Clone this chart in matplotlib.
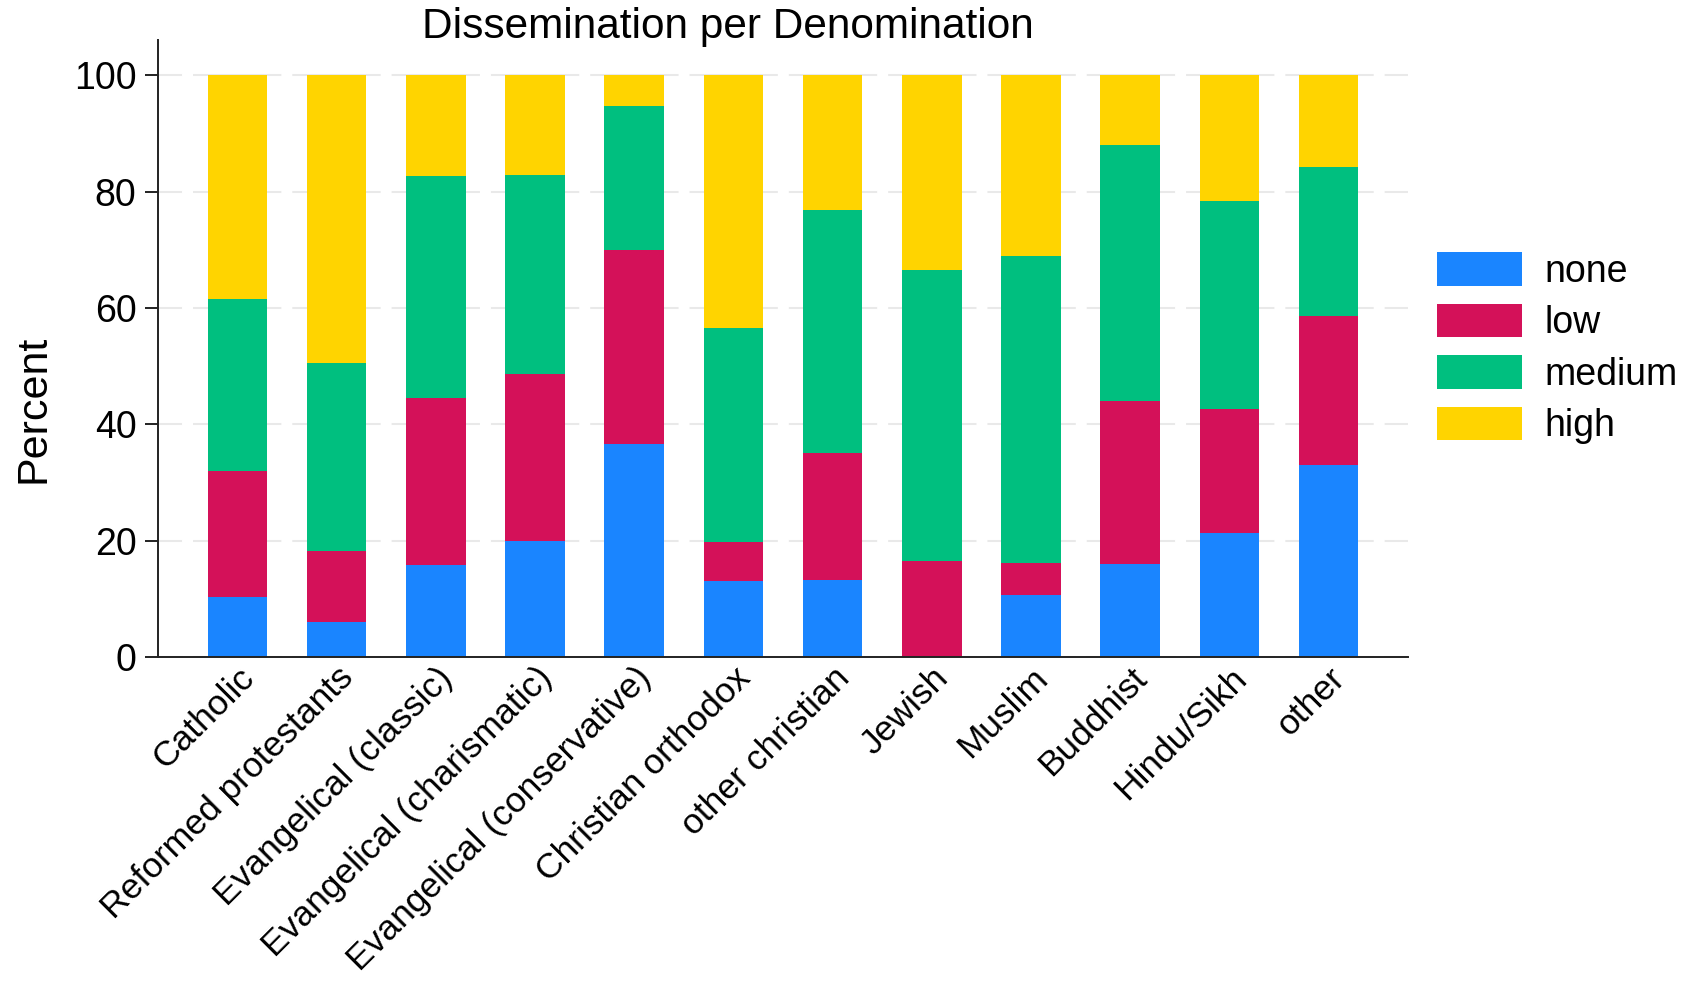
import matplotlib
matplotlib.use("Agg")
import matplotlib.pyplot as plt
import numpy as np

plt.rcParams["font.family"] = ["Liberation Sans", "DejaVu Sans"]
plt.rcParams["lines.scale_dashes"] = False

# Data (percent per denomination)
kategorier = [
    "Catholic", "Reformed protestants", "Evangelical (classic)",
    "Evangelical (charismatic)", "Evangelical (conservative)",
    "Christian orthodox", "other christian", "Jewish", "Muslim",
    "Buddhist", "Hindu/Sikh", "other",
]
none = [10.4, 6.1, 15.9, 19.9, 36.7, 13.1, 13.3, 0.0, 10.7, 16.0, 21.3, 33.1]
low = [21.5, 12.1, 28.7, 28.8, 33.3, 6.7, 21.7, 16.5, 5.4, 28.0, 21.4, 25.6]
medium = [29.7, 32.4, 38.1, 34.1, 24.7, 36.8, 41.9, 50.1, 52.8, 44.1, 35.8, 25.5]
high = [38.4, 49.4, 17.3, 17.2, 5.3, 43.4, 23.1, 33.4, 31.1, 11.9, 21.5, 15.8]

serier = ["none", "low", "medium", "high"]
färger = ["#1a85ff", "#d41159", "#00bf7f", "#ffd400"]
yticks = [0, 20, 40, 60, 80, 100]

fig = plt.figure(figsize=(16.9, 9.89), dpi=100)
ax = fig.add_axes([158 / 1690, 1 - 657 / 989, 1250 / 1690, 617 / 989])

x = np.arange(len(kategorier))
botten = np.zeros(len(kategorier))
for namn, värden, färg in zip(serier, [none, low, medium, high], färger):
    ax.bar(x, värden, width=0.6, bottom=botten, color=färg, linewidth=0, label=namn, zorder=2)
    botten += np.array(värden)

ax.set_xlim(-0.8, len(kategorier) - 0.2)
ax.set_ylim(0, 106.1)
ax.set_yticks(yticks)
ax.set_xticks(x)
ax.set_xticklabels(kategorier, rotation=45, ha="right", va="top", rotation_mode="anchor")

ax.tick_params(axis="y", labelsize=27, length=9.4, width=1.4, pad=6, color="#222222")
ax.tick_params(axis="x", labelsize=25.5, length=0, pad=3)

for s in ["top", "right"]:
    ax.spines[s].set_visible(False)
for s in ["left", "bottom"]:
    ax.spines[s].set_linewidth(1.4)
    ax.spines[s].set_color("#222222")

ax.set_axisbelow(True)
ax.yaxis.grid(True, color="#e9e9e9", linewidth=1.5, linestyle=(46.3, (63.6, 7.9)))
ax.xaxis.grid(False)

fig.text(728 / 1690, 1 - 38 / 989, "Dissemination per Denomination",
         ha="center", va="baseline", fontsize=30.5)
fig.text(34 / 1690, 1 - 409 / 989, "Percent", rotation=90,
         ha="center", va="center", fontsize=31)

fig.legend(loc="upper left", bbox_to_anchor=(1437 / 1690, 1 - 252 / 989),
           frameon=False, fontsize=27, handlelength=2.27, handleheight=1.0,
           labelspacing=0.37, handletextpad=0.6, borderpad=0, borderaxespad=0)

plt.savefig("out.png", dpi=100)
